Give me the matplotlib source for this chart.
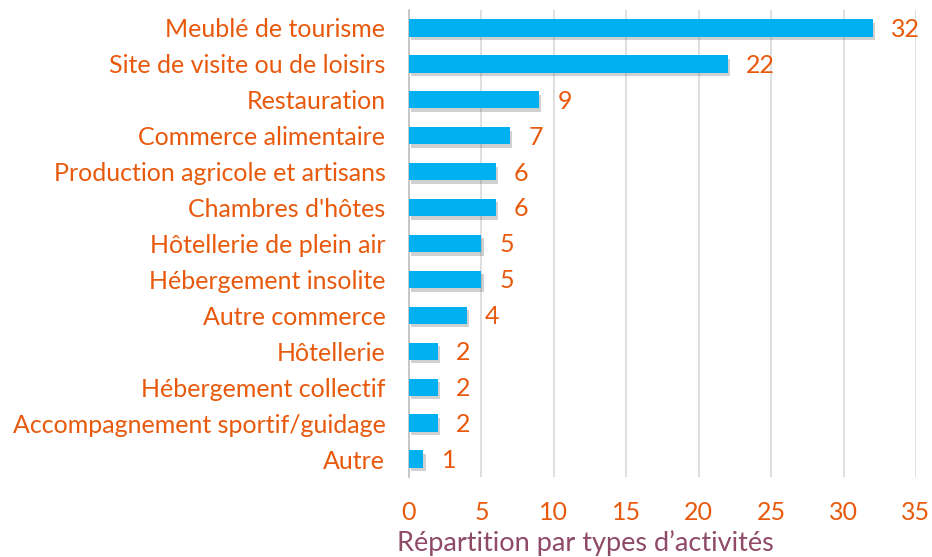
import matplotlib
matplotlib.use("Agg")
import matplotlib.pyplot as plt
import matplotlib.patheffects as pe

categories = ["Meublé de tourisme", "Site de visite ou de loisirs", "Restauration",
              "Commerce alimentaire", "Production agricole et artisans", "Chambres d'hôtes",
              "Hôtellerie de plein air", "Hébergement insolite", "Autre commerce",
              "Hôtellerie", "Hébergement collectif", "Accompagnement sportif/guidage", "Autre"]
values = [32, 22, 9, 7, 6, 6, 5, 5, 4, 2, 2, 2, 1]
xticks = [0, 5, 10, 15, 20, 25, 30, 35]

orange = "#E8590C"
blue = "#00B0F0"
plt.rcParams['font.family'] = ['Lato', 'DejaVu Sans']

fig = plt.figure(figsize=(9.32, 5.57), dpi=100)
ax = fig.add_axes([409/932, 1-477/557, (916-409)/932, (477-10)/557])

y = list(range(len(categories)))
bars = ax.barh(y, values, height=0.48, color=blue, zorder=3)
for b in bars:
    b.set_path_effects([pe.SimplePatchShadow(offset=(1.5, -2.5), shadow_rgbFace="#666666", alpha=0.3), pe.Normal()])

for yi, v in zip(y, values):
    ax.annotate(str(v), (v, yi), xytext=(13, -1), textcoords="offset points",
                va="center", ha="left", color=orange, fontsize=18)

ax.set_ylim(len(categories)-0.5, -0.5)
ax.set_xlim(0, 35)
ax.set_xticks(xticks)
ax.set_yticks(y)
ax.set_yticklabels(categories)
ax.tick_params(axis='y', length=0, pad=17, labelsize=18, labelcolor=orange)
ax.tick_params(axis='x', length=0, pad=17, labelsize=18, labelcolor=orange)
ax.grid(axis='x', color="#D9D9D9", linewidth=1.2, zorder=0)
for s in ["top", "right", "bottom"]:
    ax.spines[s].set_visible(False)
ax.spines["left"].set_color("#BFBFBF")
ax.spines["left"].set_linewidth(1.2)

fig.text(397/932, 1-543/557, "Répartition par types d’activités", ha="left", va="center",
         fontsize=19.5, color="#8E4A66")

fig.savefig("out.png", dpi=100)
